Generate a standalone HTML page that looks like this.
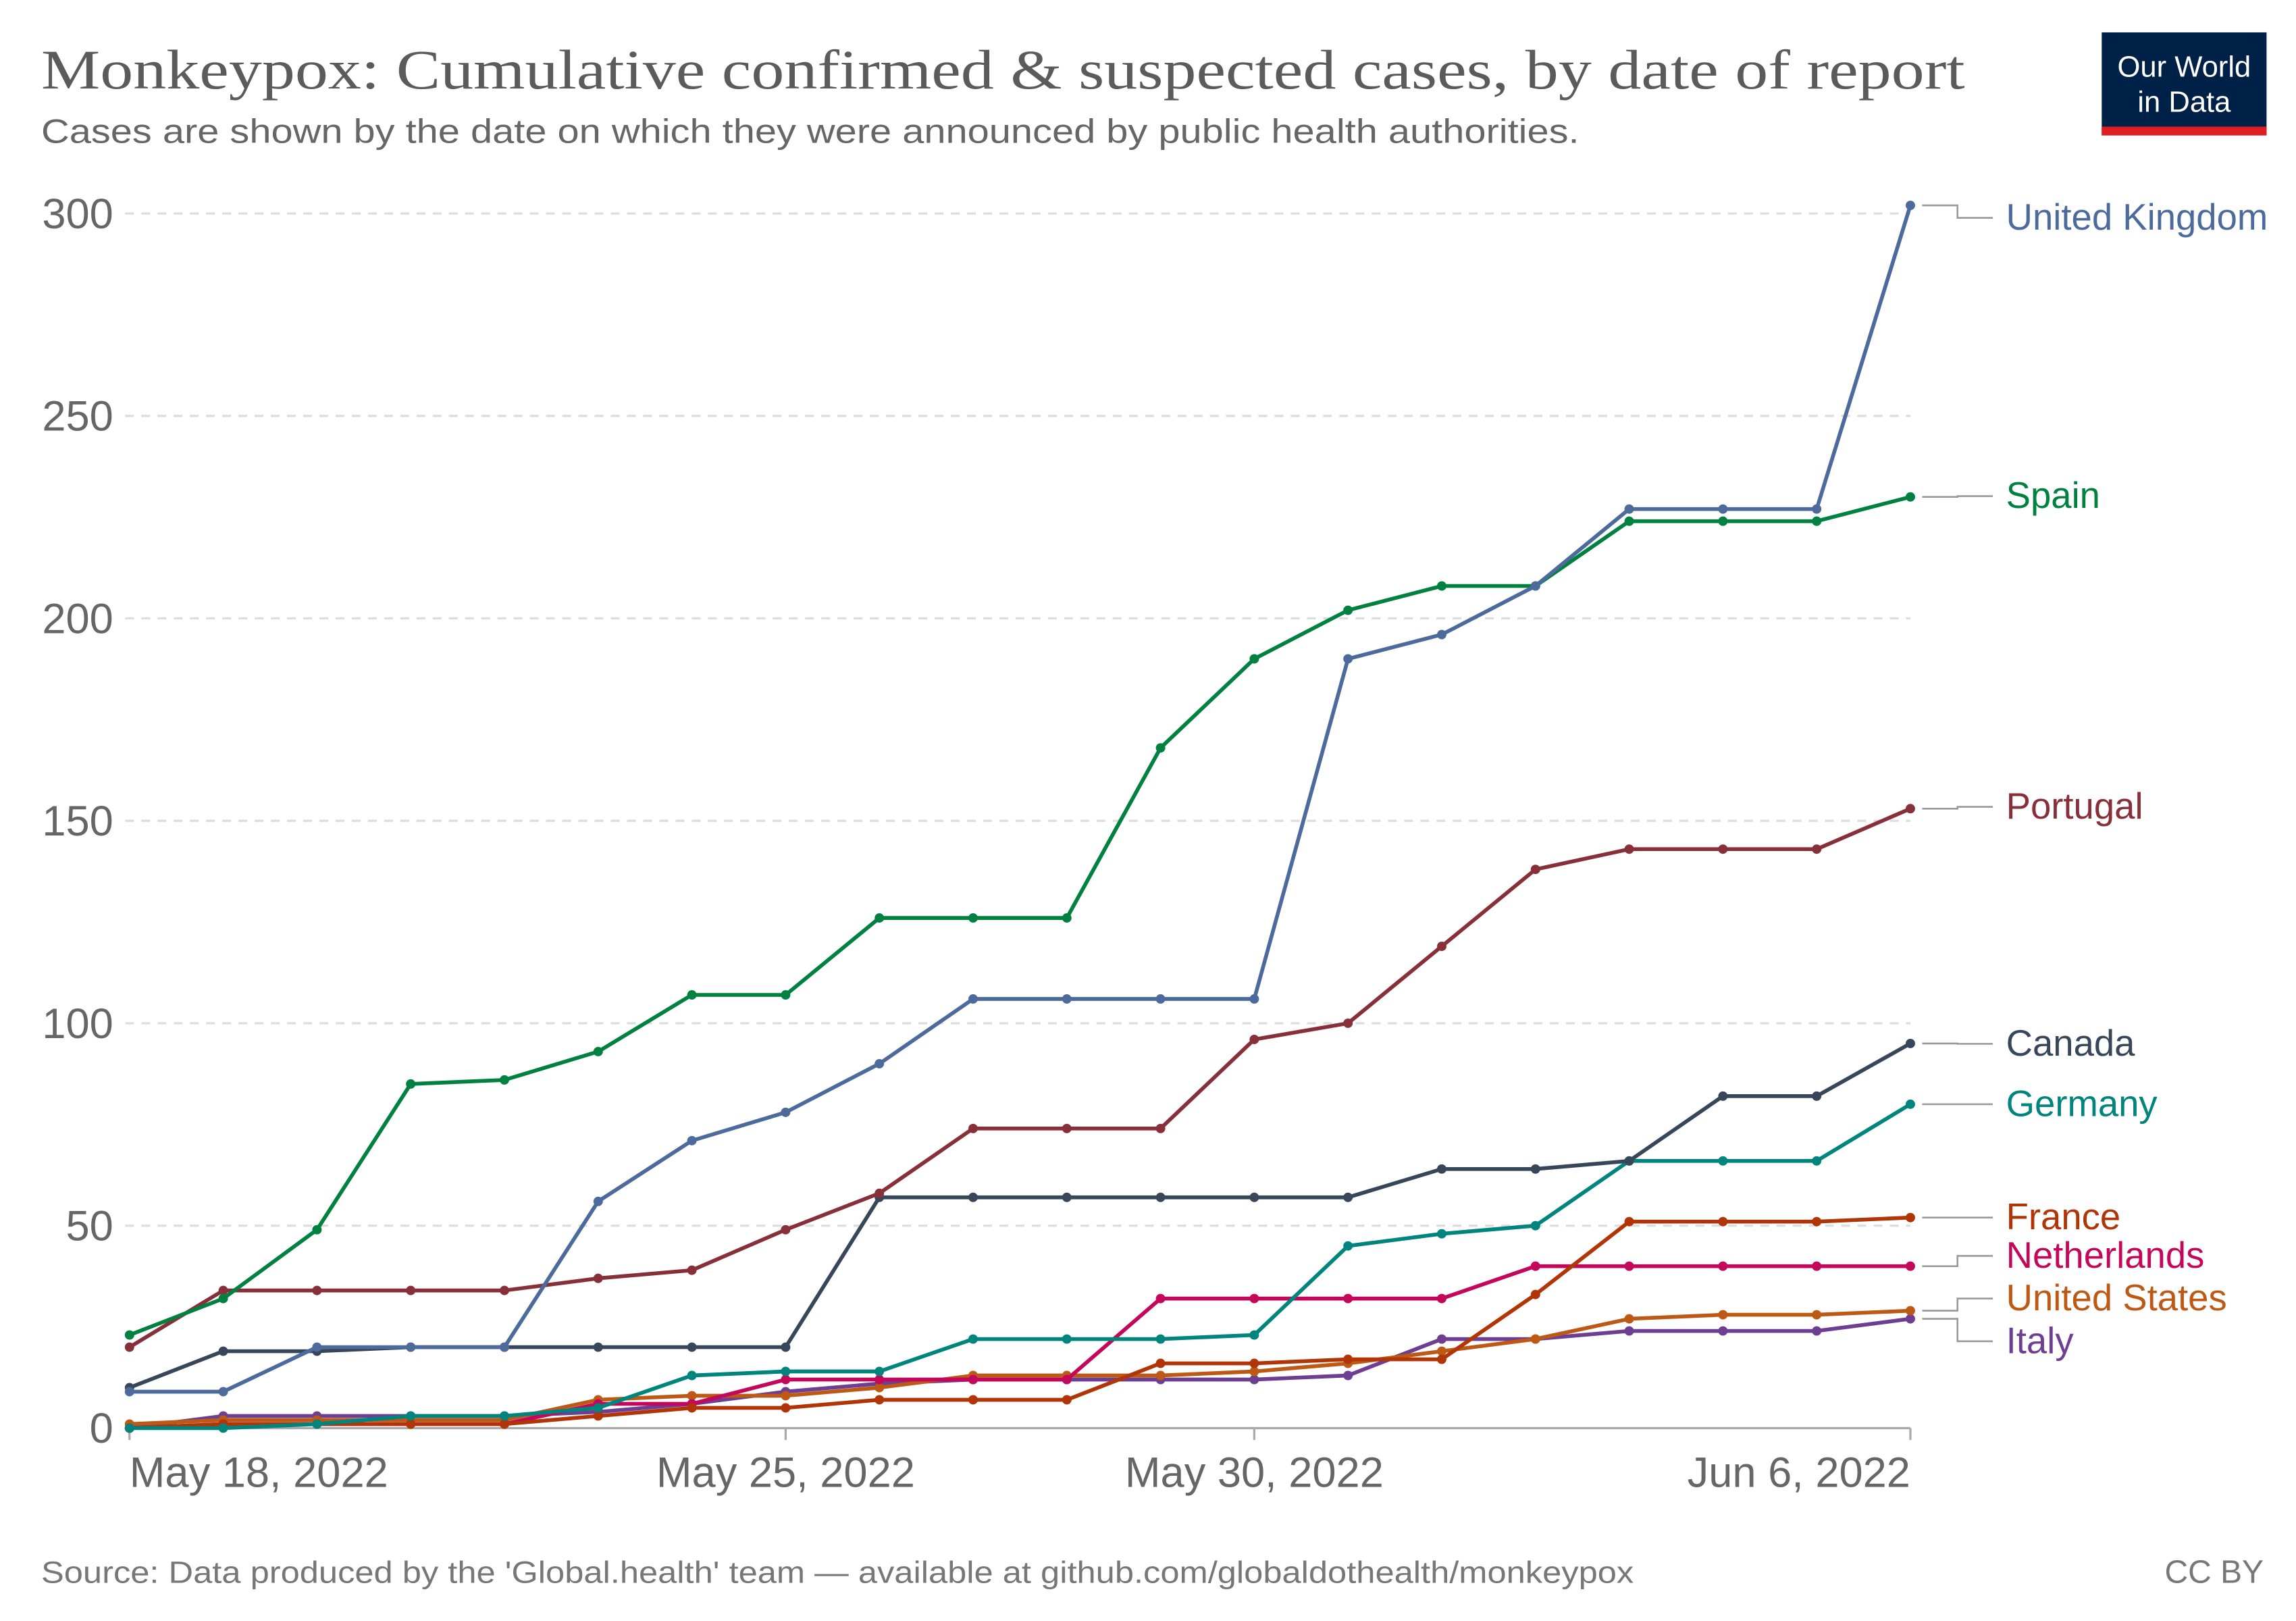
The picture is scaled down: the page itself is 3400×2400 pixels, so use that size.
<!DOCTYPE html>
<html><head><meta charset="utf-8"><style>
html,body{margin:0;padding:0;background:#fff;}
svg{display:block;}
text{font-family:"Liberation Sans",sans-serif;}
</style></head><body>
<svg id="chart" width="3400" height="2400" viewBox="0 0 1560 1101" preserveAspectRatio="none" xmlns="http://www.w3.org/2000/svg">
<text x="28" y="60" font-size="38" fill="#5b5b5b" textLength="1307" lengthAdjust="spacingAndGlyphs" style="font-family:'Liberation Serif',serif">Monkeypox: Cumulative confirmed &amp; suspected cases, by date of report</text>
<text x="28" y="97" font-size="23" fill="#666" textLength="1045" lengthAdjust="spacingAndGlyphs">Cases are shown by the date on which they were announced by public health authorities.</text>
<g>
<rect x="1428" y="22" width="112" height="70" fill="#002147"/>
<rect x="1428" y="86" width="112" height="6" fill="#dd1e22"/>
<text x="1484" y="52" font-size="20" fill="#fff" text-anchor="middle">Our World</text>
<text x="1484" y="76" font-size="20" fill="#fff" text-anchor="middle">in Data</text>
</g>
<g id="grid"></g><g id="axes"></g><g id="series"></g><g id="labels"></g>
<text x="28" y="1075" font-size="21" fill="#777" textLength="1082" lengthAdjust="spacingAndGlyphs">Source: Data produced by the 'Global.health' team — available at github.com/globaldothealth/monkeypox</text>
<text x="1538" y="1075" font-size="22" fill="#777" text-anchor="end">CC BY</text>
</svg>
<script>
const dates = ["May 18","May 19","May 20","May 21","May 22","May 23","May 24","May 25","May 26","May 27","May 28","May 29","May 30","May 31","Jun 1","Jun 2","Jun 3","Jun 4","Jun 5","Jun 6"];
const yTicks = [0,50,100,150,200,250,300];
const xTickIdx = [0,7,12,19];
const xTickLabels = ["May 18, 2022","May 25, 2022","May 30, 2022","Jun 6, 2022"];
const names = ["United Kingdom","Spain","Portugal","Canada","Germany","France","Netherlands","United States","Italy"];
const ukVals = [9,9,20,20,20,56,71,78,90,106,106,106,106,190,196,208,227,227,227,302];
const spainVals = [23,32,49,85,86,93,107,107,126,126,126,168,190,202,208,208,224,224,224,230];
const portugalVals = [20,34,34,34,34,37,39,49,58,74,74,74,96,100,119,138,143,143,143,153];
const canadaVals = [10,19,19,20,20,20,20,20,57,57,57,57,57,57,64,64,66,82,82,95];
const germanyVals = [0,0,1,3,3,5,13,14,14,22,22,22,23,45,48,50,66,66,66,80];
const franceVals = [0,1,1,1,1,3,5,5,7,7,7,16,16,17,17,33,51,51,51,52];
const netherlandsVals = [0,1,1,1,1,6,6,12,12,12,12,32,32,32,32,40,40,40,40,40];
const usVals = [1,2,2,2,2,7,8,8,10,13,13,13,14,16,19,22,27,28,28,29];
const italyVals = [0,3,3,3,3,4,6,9,11,12,12,12,12,13,22,22,24,24,24,27];

const allVals=[ukVals,spainVals,portugalVals,canadaVals,germanyVals,franceVals,netherlandsVals,usVals,italyVals];
const colors=["#4c6a9c","#00813f","#883039","#38465a","#00847e","#b13507","#c5075c","#be5915","#6d3e91"];
const labelY=[156,345,556,717,758,835,861,890,919];
const NS="http://www.w3.org/2000/svg";
const X0=88,X1=1298,Y0=970,Y1=145;
const x=i=>X0+(X1-X0)*i/(dates.length-1);
const y=v=>Y0-(Y0-Y1)*v/300;
function mk(t,a,p){const e=document.createElementNS(NS,t);for(const k in a)e.setAttribute(k,a[k]);document.getElementById(p).appendChild(e);return e;}
yTicks.forEach(t=>{
  if(t>0){const g=mk("line",{x1:85,x2:X1,y1:y(t),y2:y(t),stroke:"#ddd","stroke-width":1.5,"stroke-dasharray":"6,5"},"grid");
  
  }
  const l=mk("text",{x:77,y:y(t)+10,"font-size":29,fill:"#666","text-anchor":"end"},"axes");l.textContent=t;
  
  
});
const ax=mk("line",{x1:X0,x2:X1,y1:Y0,y2:Y0,stroke:"#aaa","stroke-width":1.5},"axes");


xTickIdx.forEach((i,k)=>{
  const tk=mk("line",{x1:x(i),x2:x(i),y1:Y0,y2:Y0+8,stroke:"#aaa","stroke-width":1.5},"axes");
  
  
  const anchor=k===0?"start":(k===xTickIdx.length-1?"end":"middle");
  const l=mk("text",{x:x(i),y:1010,"font-size":29,fill:"#666","text-anchor":anchor},"axes");l.textContent=xTickLabels[k];
  
  
});
for(let s=allVals.length-1;s>=0;s--){
  const v=allVals[s];
  const g=mk("g",{},"series");
  
  
  const p=document.createElementNS(NS,"polyline");
  p.setAttribute("points",v.map((d,i)=>x(i)+","+y(d)).join(" "));
  p.setAttribute("fill","none");p.setAttribute("stroke",colors[s]);p.setAttribute("stroke-width","2.6");p.setAttribute("stroke-linejoin","round");
  
  
  g.appendChild(p);
  v.forEach((d,i)=>{const c=document.createElementNS(NS,"circle");c.setAttribute("cx",x(i));c.setAttribute("cy",y(d));c.setAttribute("r",3.2);c.setAttribute("fill",colors[s]);
    
    
    g.appendChild(c);});
}
names.forEach((n,s)=>{
  const ey=y(allVals[s][allVals[s].length-1]),ly=labelY[s]-8;
  const c=mk("polyline",{points:`1306,${ey} 1330,${ey} 1330,${ly} 1354,${ly}`,fill:"none",stroke:"#999","stroke-width":1.2},"labels");
  
  
  const t=mk("text",{x:1363,y:labelY[s],"font-size":25,fill:colors[s]},"labels");t.textContent=n;
  
  
});
</script>
</body></html>
